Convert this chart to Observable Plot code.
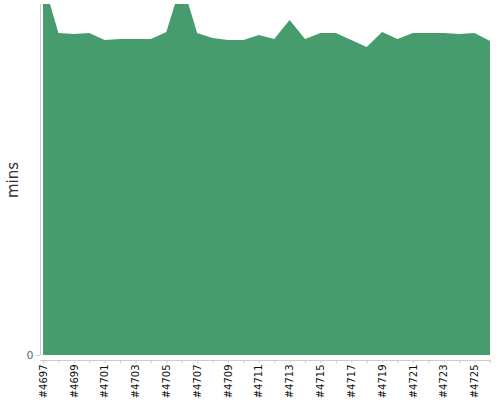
<!DOCTYPE html>
<html>
<head>
<meta charset="utf-8">
<script src="https://cdn.jsdelivr.net/npm/d3@7"></script>
<script src="https://cdn.jsdelivr.net/npm/@observablehq/plot@0.6"></script>
<style>
  html, body { margin: 0; padding: 0; background: #fff; }
  #chart svg { display: block; }
</style>
</head>
<body>
<div id="chart"></div>
<script>
const builds = ["#4697","#4698","#4699","#4700","#4701","#4702","#4703","#4704","#4705","#4706",
                "#4707","#4708","#4709","#4710","#4711","#4712","#4713","#4714","#4715","#4716",
                "#4717","#4718","#4719","#4720","#4721","#4722","#4723","#4724","#4725","#4726"];
const mins = [37.5, 32.2, 32.1, 32.2, 31.5, 31.6, 31.6, 31.6, 32.3, 37.3,
              32.2, 31.7, 31.5, 31.5, 32.0, 31.6, 33.5, 31.6, 32.2, 32.2,
              31.5, 30.8, 32.3, 31.6, 32.2, 32.2, 32.2, 32.1, 32.2, 31.4];
const yTicks = [0];
const yMax = 35.1;
const yLabel = "mins";

const idx = builds.map((b, i) => i);
const xMin = -0.195; // small gap between the y axis line and the first build
const data = builds.map((b, i) => ({i, build: b, mins: mins[i]}));
const labeledIdx = idx.filter(i => i % 2 === 0);

const chart = Plot.plot({
  width: 500,
  height: 400,
  marginTop: 4,
  marginBottom: 45,
  marginLeft: 40,
  marginRight: 10,
  style: {fontFamily: "'DejaVu Sans', sans-serif", fontSize: "10px", background: "#fff"},
  x: {type: "linear", domain: [xMin, builds.length - 1]},
  y: {domain: [0, yMax]},
  marks: [
    Plot.areaY(data, {x: "i", y: "mins", fill: "#469c6d", clip: true}),
    Plot.ruleX([xMin], {stroke: "#ccc"}),
    Plot.ruleY([0], {stroke: "#ccc", dy: 5}),
    Plot.axisY({ticks: yTicks, tickSize: 4, tickPadding: 3, stroke: "#ccc", fill: "#666",
                label: null, fontSize: 11}),
    Plot.text([yLabel], {frameAnchor: "left", textAnchor: "middle", dx: -27, rotate: -90, fontSize: 15,
                         fontFamily: "'DejaVu Sans', sans-serif", fill: "#333"}),
    Plot.axisX({ticks: idx, tickSize: 3, stroke: "#ccc", text: null, dy: 5, label: null}),
    Plot.axisX({ticks: labeledIdx, tickFormat: i => builds[i], tickSize: 0, tickPadding: 9,
                tickRotate: -90, fill: "#111", label: null, fontSize: 10})
  ]
});
document.getElementById("chart").appendChild(chart);
</script>
</body>
</html>
